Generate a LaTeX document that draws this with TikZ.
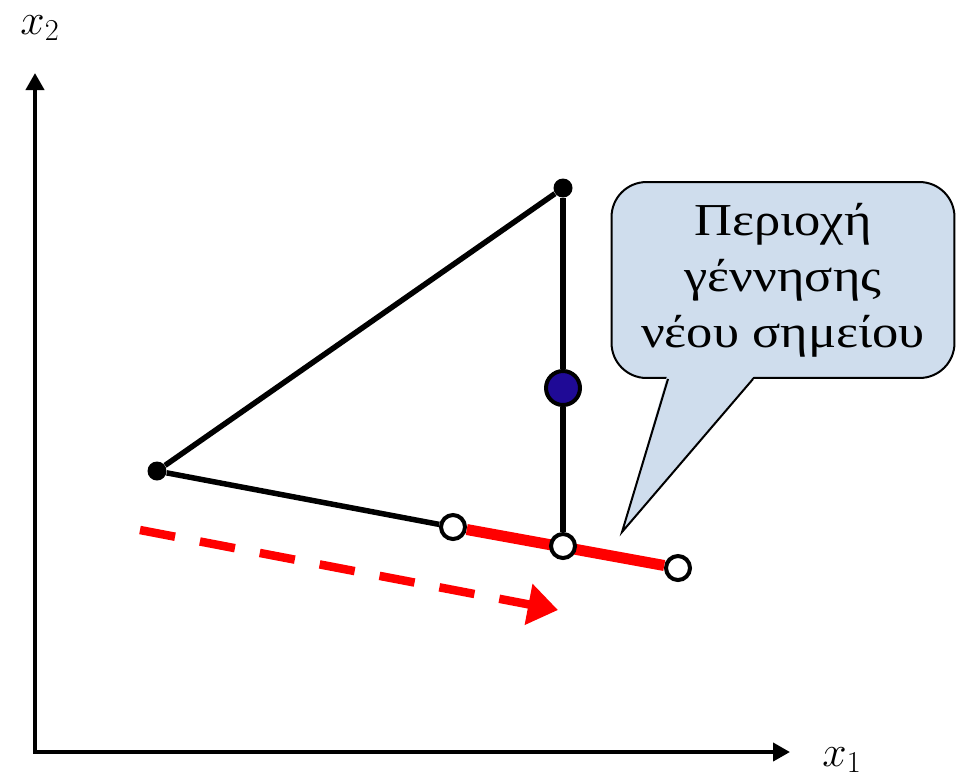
\documentclass[tikz,border=0pt]{standalone}
\usepackage{fontspec}
\newfontfamily\greekfont[FakeStretch=1.15]{Liberation Serif}
\usetikzlibrary{arrows.meta}
\definecolor{calloutblue}{RGB}{207,221,237}
\definecolor{pointblue}{RGB}{31,10,150}
\begin{document}
\begin{tikzpicture}[x=0.02cm, y=-0.02cm,
  axis/.style={line width=0.08cm, {Triangle[length=0.34cm,width=0.36cm]}-{Triangle[length=0.34cm,width=0.36cm]}},
  edge/.style={line width=0.11cm},
  vertex/.style={circle, fill=black, inner sep=0pt, minimum size=0.38cm},
  hollow/.style={circle, draw, line width=0.08cm, fill=white, inner sep=0pt, minimum size=0.48cm},
  newpt/.style={circle, draw, line width=0.08cm, fill=pointblue, inner sep=0pt, minimum size=0.68cm},
  segment/.style={red, line width=0.22cm},
  move/.style={red, line width=0.17cm, dash pattern=on 20.3pt off 14.4pt, -{Triangle[length=0.6cm,width=0.8cm]}},
  note/.style={draw, line width=0.04cm, fill=calloutblue, rounded corners=0.7cm, minimum width=6.86cm, minimum height=3.92cm, align=center, font=\greekfont\fontsize{26}{32}\selectfont},
  label/.style={font=\fontsize{27}{30}\selectfont}
]
\useasboundingbox (0,0) rectangle (962,779);

\coordinate (O) at (35,752);
\coordinate (Y) at (35,73);
\coordinate (X) at (790,752);
\draw[axis] (Y) -- (O) -- (X);
\node[label] (x2) at (40,28) {$x_2$};
\node[label] (x1) at (842,760) {$x_1$};

\node[vertex] (A) at (157,471) {};
\node[vertex] (B) at (563,188) {};
\node[hollow] (P) at (453,527) {};
\node[hollow] (Q) at (678,568) {};
\draw[edge] (A) -- (B);
\draw[edge] (A) -- (P);
\draw[segment] (P) -- (Q);
\node[hollow] (C) at (563,546) {};
\node[newpt] (M) at (563,388) {};
\draw[edge] (B) -- (M);
\draw[edge] (M) -- (C);

\coordinate (s) at (140,530);
\coordinate (t) at (558,610);
\draw[move] (s) -- (t);

\node[note] (box) at (783,280) {Περιοχή\\γέννησης\\νέου σημείου};
\coordinate (tip) at (622,532);
\fill[calloutblue] ([xshift=-0.02cm, yshift=0.06cm]box.south -| 668,0) -- (tip) -- ([xshift=0.02cm, yshift=0.06cm]box.south -| 753,0) -- cycle;
\draw[line width=0.04cm, line join=miter] (box.south -| 668,0) -- (tip) -- (box.south -| 753,0);
\end{tikzpicture}
\end{document}
